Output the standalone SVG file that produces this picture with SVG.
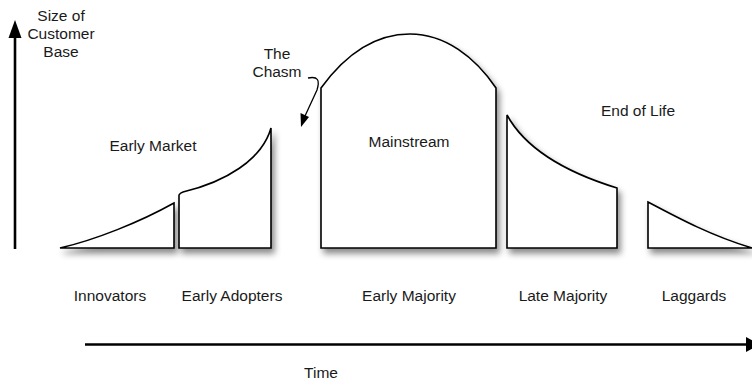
<svg xmlns="http://www.w3.org/2000/svg" width="752" height="382" viewBox="0 0 752 382">
<defs>
<style>
.lbl{font-family:"Liberation Sans",Arial,Helvetica,sans-serif;font-size:15.5px;fill:#1a1a1a;text-anchor:middle}
.shape{fill:#fff;stroke:#000;stroke-width:1.6;stroke-linejoin:miter}
.axis{stroke:#000;stroke-width:2.6;fill:none}
</style>
<filter id="sh" x="-20%" y="-20%" width="150%" height="150%">
<feDropShadow dx="3" dy="5" stdDeviation="3" flood-color="#000" flood-opacity="0.45"/>
</filter>
</defs>
<rect width="752" height="382" fill="#fff"/>

<g id="connectors">
<g id="y-axis">
<line class="axis" x1="15" y1="249" x2="15" y2="34"/>
<polygon points="15,20 21.5,38 8.5,38" fill="#000"/>
</g>
<g id="x-axis">
<line class="axis" x1="85" y1="344.5" x2="748" y2="344.5"/>
<polygon points="746,337 760,344.5 746,352" fill="#000"/>
</g>
<g id="chasm-arrow">
<path d="M308,78 C318,76 320,80 317,90 L305,116" fill="none" stroke="#000" stroke-width="1.3"/>
<polygon points="301,127 300.5,113 309,117" fill="#000"/>
</g>
</g>

<g id="innovators">
<path class="shape" filter="url(#sh)" d="M60,248 C95,240 140,222 174,203 L174,248 Z"/>
<text class="lbl" x="110" y="301">Innovators</text>
</g>

<g id="early-adopters">
<path class="shape" filter="url(#sh)" d="M179,248 L179,195 Q180,193 183,192 C225,182 262,160 271,128 L271,248 Z"/>
<text class="lbl" x="232" y="301">Early Adopters</text>
</g>

<g id="early-market">
<text class="lbl" x="153" y="151">Early Market</text>
</g>

<g id="chasm">
<text class="lbl" x="277" y="59">The</text>
<text class="lbl" x="277" y="77">Chasm</text>
</g>

<g id="early-majority">
<path class="shape" filter="url(#sh)" d="M321,248 L321,88 C345,55 375,34 410,34 C445,34 475,57 496,88 L496,248 Z"/>
<text class="lbl" x="409" y="147">Mainstream</text>
<text class="lbl" x="409" y="301">Early Majority</text>
</g>

<g id="late-majority">
<path class="shape" filter="url(#sh)" d="M507,248 L507,115 C525,148 565,172 617,188 L617,248 Z"/>
<text class="lbl" x="563" y="301">Late Majority</text>
</g>

<g id="end-of-life">
<text class="lbl" x="638" y="116">End of Life</text>
</g>

<g id="laggards">
<path class="shape" filter="url(#sh)" d="M648,248 L648,202 C680,219 712,236 752,248 Z"/>
<text class="lbl" x="694" y="301">Laggards</text>
</g>

<g id="y-label">
<text class="lbl" x="61" y="21">Size of</text>
<text class="lbl" x="61" y="39">Customer</text>
<text class="lbl" x="61" y="57">Base</text>
</g>

<g id="time-label">
<text class="lbl" x="321" y="378">Time</text>
</g>
</svg>
